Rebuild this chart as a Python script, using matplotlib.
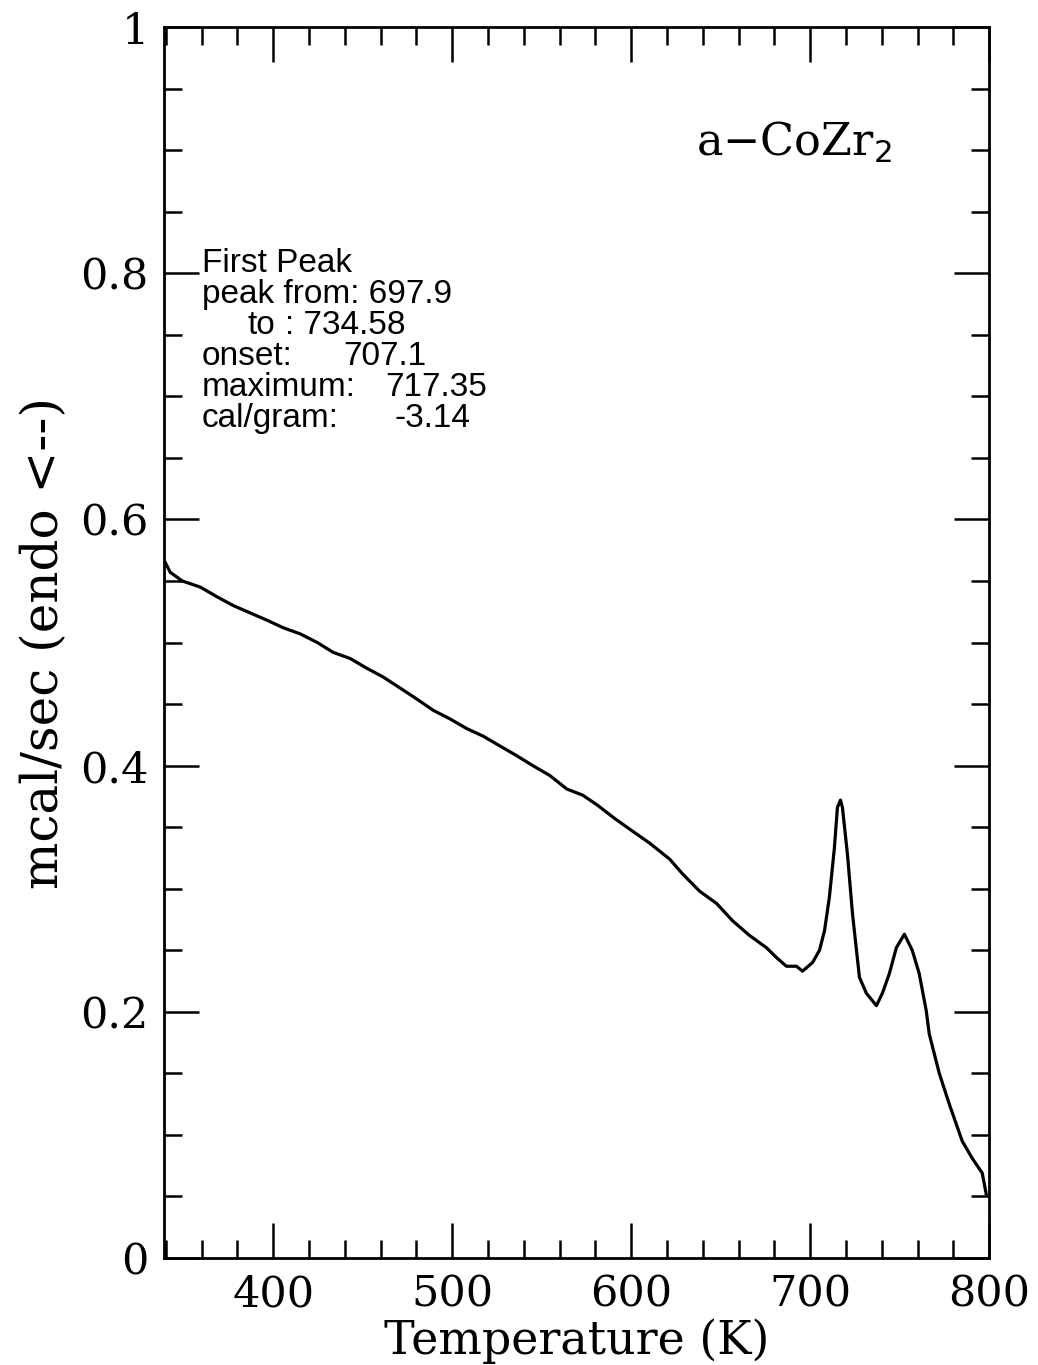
import numpy as np
import matplotlib
matplotlib.use("Agg")
import matplotlib.pyplot as plt
from matplotlib.ticker import MultipleLocator

# DSC trace, a-CoZr2
temp = [339.7, 342.5, 349.2, 359.3, 368.8, 377.7, 387.2, 396.7, 405.6, 415.1,
        424.6, 433.5, 443.0, 452.4, 461.4, 470.9, 480.3, 489.3, 498.7, 508.2,
        517.2, 526.6, 536.1, 545.0, 554.5, 564.0, 572.9, 581.0, 590.8, 600.5,
        610.3, 621.5, 628.7, 638.2, 647.7, 656.6, 666.1, 675.6, 681.2, 686.7,
        692.3, 695.7, 701.3, 705.2, 708.0, 710.7, 713.5, 715.2, 716.9, 718.0,
        720.8, 723.6, 727.5, 731.4, 737.0, 740.3, 744.2, 748.1, 752.6, 757.0,
        760.9, 764.8, 766.5, 772.1, 777.7, 784.9, 790.5, 796.1, 798.3]
heat = [0.565, 0.557, 0.550, 0.545, 0.537, 0.530, 0.524, 0.518, 0.512, 0.507,
        0.500, 0.492, 0.487, 0.479, 0.472, 0.463, 0.454, 0.445, 0.438, 0.430,
        0.424, 0.416, 0.408, 0.400, 0.392, 0.381, 0.376, 0.368, 0.357, 0.347,
        0.337, 0.324, 0.312, 0.298, 0.288, 0.274, 0.262, 0.252, 0.244, 0.237,
        0.237, 0.233, 0.240, 0.250, 0.266, 0.293, 0.333, 0.366, 0.372, 0.366,
        0.328, 0.280, 0.228, 0.215, 0.205, 0.215, 0.231, 0.252, 0.263, 0.250,
        0.231, 0.201, 0.182, 0.150, 0.125, 0.095, 0.081, 0.069, 0.052]

peak_labels = ['First Peak', 'peak from: 697.9', 'to', 'onset:', 'maximum:', 'cal/gram:']
peak_values = ['', '', ': 734.58', '707.1', '717.35', '-3.14']

fig = plt.figure(figsize=(10.38, 13.65), dpi=100)
ax = fig.add_axes([0.158, 0.0784, 0.795, 0.9018])

ax.plot(temp, heat, color='black', lw=2.3, solid_joinstyle='round')

ax.set_xlim(339, 800)
ax.set_ylim(0, 1)
ax.xaxis.set_major_locator(MultipleLocator(100))
ax.xaxis.set_minor_locator(MultipleLocator(20))
ax.yaxis.set_major_locator(MultipleLocator(0.2))
ax.yaxis.set_minor_locator(MultipleLocator(0.05))
ax.yaxis.set_major_formatter(lambda v, p: '0' if v == 0 else ('1' if abs(v - 1) < 1e-9 else f'{v:.1f}'))

ax.tick_params(which='both', direction='in', top=True, right=True, width=1.8,
               labelsize=31, pad=11)
ax.tick_params(which='major', length=25)
ax.tick_params(which='minor', length=13)
for lab in ax.get_xticklabels() + ax.get_yticklabels():
    lab.set_family('DejaVu Serif')
for s in ax.spines.values():
    s.set_linewidth(2)

ax.set_xlabel('Temperature (K)', family='DejaVu Serif', fontsize=33, labelpad=2)
ax.set_ylabel('mcal/sec (endo <--)', family='DejaVu Serif', fontsize=36, labelpad=8)

ax.text(0.645, 0.895, r'a$-$CoZr$_2$', transform=ax.transAxes, family='DejaVu Serif',
        fontsize=32, ha='left', va='baseline')

# peak analysis box
label_x = [202, 202, 248, 202, 202, 202]
value_x = [0, 0, 285, 343, 385, 395]
baselines = [272, 303, 334, 365, 396, 427]
W, H = 1038, 1365
for lab, val, lx, vx, b in zip(peak_labels, peak_values, label_x, value_x, baselines):
    ax.text(lx / W, 1 - b / H, lab, transform=fig.transFigure, family='Liberation Sans',
            fontsize=24, va='baseline', ha='left')
    if val:
        ax.text(vx / W, 1 - b / H, val, transform=fig.transFigure, family='Liberation Sans',
                fontsize=24, va='baseline', ha='left')

fig.savefig('out.png', dpi=100)
